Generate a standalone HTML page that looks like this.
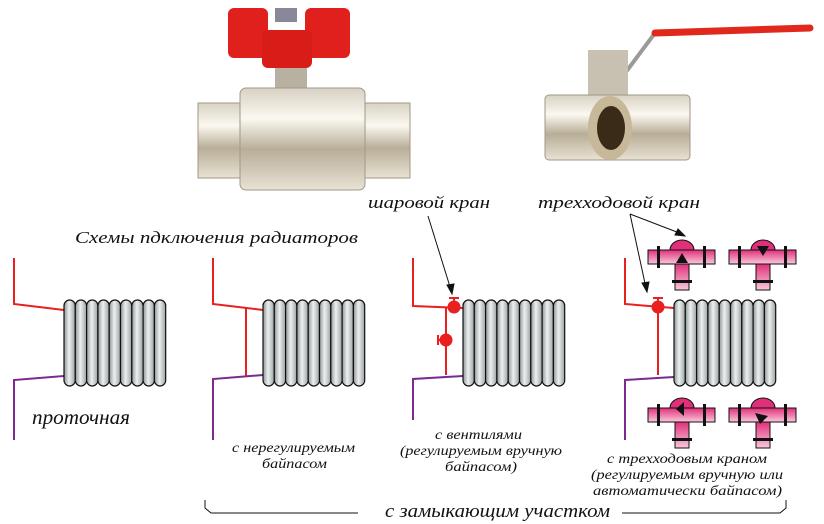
<!DOCTYPE html>
<html><head><meta charset="utf-8"><style>
html,body{margin:0;padding:0;background:#fff}
svg{display:block}
text{font-family:"Liberation Serif","DejaVu Serif",serif;font-style:italic;fill:#111}
</style></head><body>
<svg width="824" height="524" viewBox="0 0 824 524" xmlns="http://www.w3.org/2000/svg">
<defs>
<linearGradient id="col" x1="0" x2="1" y1="0" y2="0">
<stop offset="0" stop-color="#8e9696"/><stop offset="0.45" stop-color="#eef0f0"/><stop offset="1" stop-color="#9aa2a2"/>
</linearGradient>
<linearGradient id="pink" x1="0" x2="0" y1="0" y2="1">
<stop offset="0" stop-color="#e0307a"/><stop offset="1" stop-color="#f8c8dc"/>
</linearGradient>
<linearGradient id="metal" x1="0" x2="0" y1="0" y2="1">
<stop offset="0" stop-color="#d8d2c4"/><stop offset="0.3" stop-color="#fbf8f0"/><stop offset="0.6" stop-color="#b8ae98"/><stop offset="1" stop-color="#e8e2d4"/>
</linearGradient>
<g id="rad">
<rect x="0" y="2" width="11.3" height="86" rx="5.6" fill="url(#col)" stroke="#111" stroke-width="1.2"/>
</g>
<g id="valve">
<rect x="0" y="0" width="67" height="14" fill="url(#pink)" stroke="#111" stroke-width="1"/>
<path d="M22 0 A12 10 0 0 1 46 0 Z" fill="#e0307a" stroke="#111" stroke-width="1"/>
<rect x="27" y="14" width="14" height="26" fill="url(#pink)" stroke="#111" stroke-width="1"/>
<rect x="9" y="-4" width="3" height="22" fill="#111"/><rect x="55" y="-4" width="3" height="22" fill="#111"/>
<rect x="24" y="30" width="20" height="3" fill="#111"/>
</g>
</defs>

<!-- ball valve photo -->
<rect x="228" y="8" width="40" height="50" rx="6" fill="#e0201c"/>
<rect x="305" y="8" width="45" height="50" rx="6" fill="#e0201c"/>
<rect x="262" y="30" width="50" height="38" rx="6" fill="#d81c18"/>
<rect x="275" y="8" width="22" height="14" fill="#889"/>
<rect x="275" y="68" width="32" height="25" fill="#b8b0a0"/>
<rect x="198" y="103" width="55" height="75" fill="url(#metal)" stroke="#a09888"/>
<rect x="360" y="103" width="50" height="75" fill="url(#metal)" stroke="#a09888"/>
<rect x="240" y="88" width="125" height="102" rx="6" fill="url(#metal)" stroke="#a09888"/>
<!-- three-way valve photo -->
<line x1="608" y1="96" x2="655" y2="33" stroke="#9a9a9a" stroke-width="4"/>
<line x1="655" y1="33" x2="810" y2="28" stroke="#e0281c" stroke-width="7" stroke-linecap="round"/>
<rect x="588" y="50" width="40" height="45" fill="#c8c0b0"/>
<rect x="545" y="95" width="145" height="65" rx="4" fill="url(#metal)" stroke="#a09888"/>
<ellipse cx="610" cy="128" rx="22" ry="32" fill="#c8b89a"/>
<ellipse cx="611" cy="128" rx="14" ry="22" fill="#3a2a18"/>

<!-- labels -->
<text x="368" y="208" font-size="17" textLength="122" lengthAdjust="spacingAndGlyphs">шаровой кран</text>
<text x="538" y="208" font-size="17" textLength="162" lengthAdjust="spacingAndGlyphs">трехходовой кран</text>
<text x="75" y="243" font-size="17" textLength="283" lengthAdjust="spacingAndGlyphs">Схемы пдключения радиаторов</text>

<!-- arrows -->
<g stroke="#111" stroke-width="1" fill="#111">
<line x1="428" y1="216" x2="451" y2="290"/><path d="M452 294 l-5 -9 l7 -1 z"/>
<line x1="630" y1="214" x2="682" y2="234"/><path d="M685 236 l-10 -1 l3 -6 z"/>
<line x1="630" y1="214" x2="646" y2="288"/><path d="M647 292 l-5 -9 l7 -1 z"/>
</g>

<g fill="none" stroke-width="2">
<path d="M14 258 V304 L64 310" stroke="#e82020"/>
<path d="M64 376 L14 380 V440" stroke="#7a2a90"/>
<path d="M213 258 V304 L263 310" stroke="#e82020"/>
<path d="M246 307 V376" stroke="#e82020"/>
<path d="M263 375 L213 379 V440" stroke="#7a2a90"/>
<path d="M413 258 V306 L463 308" stroke="#e82020"/>
<path d="M446 307 V375" stroke="#e82020"/>
<path d="M463 376 L413 379 V420" stroke="#7a2a90"/>
<path d="M625 258 V304 L674 308" stroke="#e82020"/>
<path d="M658 307 V375" stroke="#e82020"/>
<path d="M674 377 L625 380 V440" stroke="#7a2a90"/>
</g>
<g fill="#e82020" stroke="#e82020" stroke-width="2">
<circle cx="454" cy="307" r="5.5"/><line x1="454" y1="301" x2="454" y2="298"/><line x1="449" y1="298" x2="459" y2="298"/>
<circle cx="446" cy="340" r="5.5"/><line x1="440" y1="340" x2="438" y2="340"/><line x1="438" y1="335" x2="438" y2="345"/>
<circle cx="658" cy="307" r="5.5"/><line x1="658" y1="301" x2="658" y2="298"/><line x1="653" y1="298" x2="663" y2="298"/>
</g>

<g transform="translate(64,298)">
<use href="#rad" x="0"/><use href="#rad" x="11.3"/><use href="#rad" x="22.6"/><use href="#rad" x="33.9"/><use href="#rad" x="45.2"/><use href="#rad" x="56.5"/><use href="#rad" x="67.8"/><use href="#rad" x="79.1"/><use href="#rad" x="90.4"/>
</g>
<g transform="translate(263,298)">
<use href="#rad" x="0"/><use href="#rad" x="11.3"/><use href="#rad" x="22.6"/><use href="#rad" x="33.9"/><use href="#rad" x="45.2"/><use href="#rad" x="56.5"/><use href="#rad" x="67.8"/><use href="#rad" x="79.1"/><use href="#rad" x="90.4"/>
</g>
<g transform="translate(463,298)">
<use href="#rad" x="0"/><use href="#rad" x="11.3"/><use href="#rad" x="22.6"/><use href="#rad" x="33.9"/><use href="#rad" x="45.2"/><use href="#rad" x="56.5"/><use href="#rad" x="67.8"/><use href="#rad" x="79.1"/><use href="#rad" x="90.4"/>
</g>
<g transform="translate(674,298)">
<use href="#rad" x="0"/><use href="#rad" x="11.3"/><use href="#rad" x="22.6"/><use href="#rad" x="33.9"/><use href="#rad" x="45.2"/><use href="#rad" x="56.5"/><use href="#rad" x="67.8"/><use href="#rad" x="79.1"/><use href="#rad" x="90.4"/>
</g>

<use href="#valve" x="648" y="250"/>
<path d="M676 263 L682 253 L688 263 Z" fill="#111"/>
<use href="#valve" x="729" y="250"/>
<path d="M757 246 L769 246 L763 256 Z" fill="#111"/>
<use href="#valve" x="648" y="408"/>
<path d="M684 402 L684 416 L676 409 Z" fill="#111"/>
<use href="#valve" x="729" y="408"/>
<path d="M755 413 L768 416 L760 424 Z" fill="#111"/>

<text x="32" y="424" font-size="21" textLength="98" lengthAdjust="spacingAndGlyphs">проточная</text>
<text x="232" y="452" font-size="14" textLength="123" lengthAdjust="spacingAndGlyphs">с нерегулируемым</text>
<text x="262" y="468" font-size="14" textLength="65" lengthAdjust="spacingAndGlyphs">байпасом</text>
<text x="435" y="439" font-size="14" textLength="87" lengthAdjust="spacingAndGlyphs">с вентилями</text>
<text x="400" y="455" font-size="14" textLength="162" lengthAdjust="spacingAndGlyphs">(регулируемым вручную</text>
<text x="445" y="471" font-size="14" textLength="72" lengthAdjust="spacingAndGlyphs">байпасом)</text>
<text x="607" y="463" font-size="14" textLength="160" lengthAdjust="spacingAndGlyphs">с трехходовым краном</text>
<text x="591" y="479" font-size="14" textLength="192" lengthAdjust="spacingAndGlyphs">(регулируемым вручную или</text>
<text x="593" y="495" font-size="14" textLength="189" lengthAdjust="spacingAndGlyphs">автоматически байпасом)</text>

<path d="M205 500 V508 L211 513 H358" stroke="#111" fill="none" stroke-width="1"/>
<path d="M622 513 H780 L786 508 V500" stroke="#111" fill="none" stroke-width="1"/>
<text x="385" y="517" font-size="19" textLength="225" lengthAdjust="spacingAndGlyphs">с замыкающим участком</text>
</svg>
</body></html>
